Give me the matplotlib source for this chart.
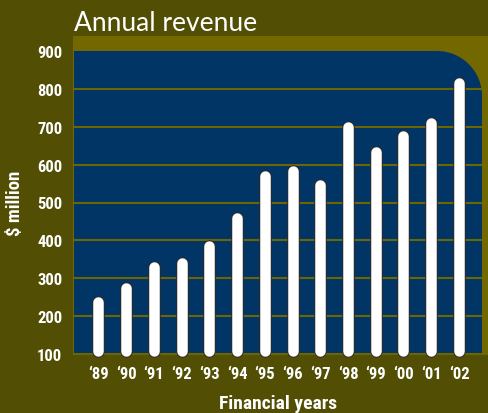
import matplotlib.pyplot as plt
from matplotlib.patches import Rectangle, PathPatch
from matplotlib.path import Path
from matplotlib.transforms import offset_copy

# data
years = ['\u201889', '\u201890', '\u201891', '\u201892', '\u201893', '\u201894', '\u201895',
         '\u201896', '\u201897', '\u201898', '\u201899', '\u201800', '\u201801', '\u201802']
revenue = [252, 291, 346, 356, 402, 476, 587, 599, 561, 716, 648, 692, 726, 832]
yticks = [100, 200, 300, 400, 500, 600, 700, 800, 900]

bg = '#524f05'
olive = '#736700'
navy = '#003566'
narrow = ['Roboto Condensed', 'DejaVu Sans']

W, H = 488, 414
fig = plt.figure(figsize=(W / 100, H / 100), dpi=100, facecolor=bg)
ax = fig.add_axes([74 / W, 59 / H, 408 / W, 303 / H])
ax.patch.set_visible(False)

# lighter olive frame behind the plot area
fig.add_artist(Rectangle((73 / W, 58 / H), 415 / W, 319 / H, transform=fig.transFigure,
                         facecolor=olive, edgecolor='none', zorder=-1))

# navy panel with a rounded top-right corner
rx, ry, k = 45 / 408, 45 / 303, 0.5523
verts = [(0, 0), (1, 0), (1, 1 - ry),
         (1, 1 - ry + k * ry), (1 - rx + k * rx, 1), (1 - rx, 1),
         (0, 1), (0, 0)]
codes = [Path.MOVETO, Path.LINETO, Path.LINETO,
         Path.CURVE4, Path.CURVE4, Path.CURVE4,
         Path.LINETO, Path.CLOSEPOLY]
ax.add_patch(PathPatch(Path(verts, codes), transform=ax.transAxes,
                       facecolor=navy, edgecolor='none', zorder=0, clip_on=False))

# grid lines
ax.hlines(yticks[:-1], 0, 1, transform=ax.get_yaxis_transform(), colors='#6e6400',
          linewidth=1.5, zorder=1, clip_on=False)

# pill shaped bars (dark outline then white)
x = list(range(len(years)))
trans = offset_copy(ax.transData, fig=fig, x=0, y=-6, units='dots')
ax.vlines(x, 124, revenue, colors='#2b2b2b', linewidth=12.5 * 0.72, capstyle='round',
          transform=trans, zorder=2, clip_on=False)
ax.vlines(x, 124, revenue, colors='white', linewidth=10.5 * 0.72, capstyle='round',
          transform=trans, zorder=3, clip_on=False)

ax.set_xlim(-0.876, 13.83)
ax.set_ylim(100, 900)
ax.set_xticks(x)
ax.set_xticklabels(years)
ax.set_yticks(yticks)
for s in ax.spines.values():
    s.set_visible(False)
ax.tick_params(length=0, colors='white', labelsize=12)
ax.tick_params(axis='y', pad=8.5)
ax.tick_params(axis='x', pad=9)
for t in ax.get_xticklabels() + ax.get_yticklabels():
    t.set_family(narrow)
    t.set_fontweight('bold')

fig.text(74 / W, (H - 31) / H, 'Annual revenue', color='white', fontsize=19,
         family=['Lato', 'DejaVu Sans'], ha='left', va='baseline')
fig.text(278 / W, (H - 409) / H, 'Financial years', color='white', fontsize=14,
         fontweight='bold', family=narrow, ha='center', va='baseline')
fig.text(15.5 / W, (H - 203) / H, '$ million', color='white', fontsize=13.5,
         fontweight='bold', family=narrow, ha='center', va='center', rotation=90)

fig.savefig('out.png', dpi=100, facecolor=bg)
